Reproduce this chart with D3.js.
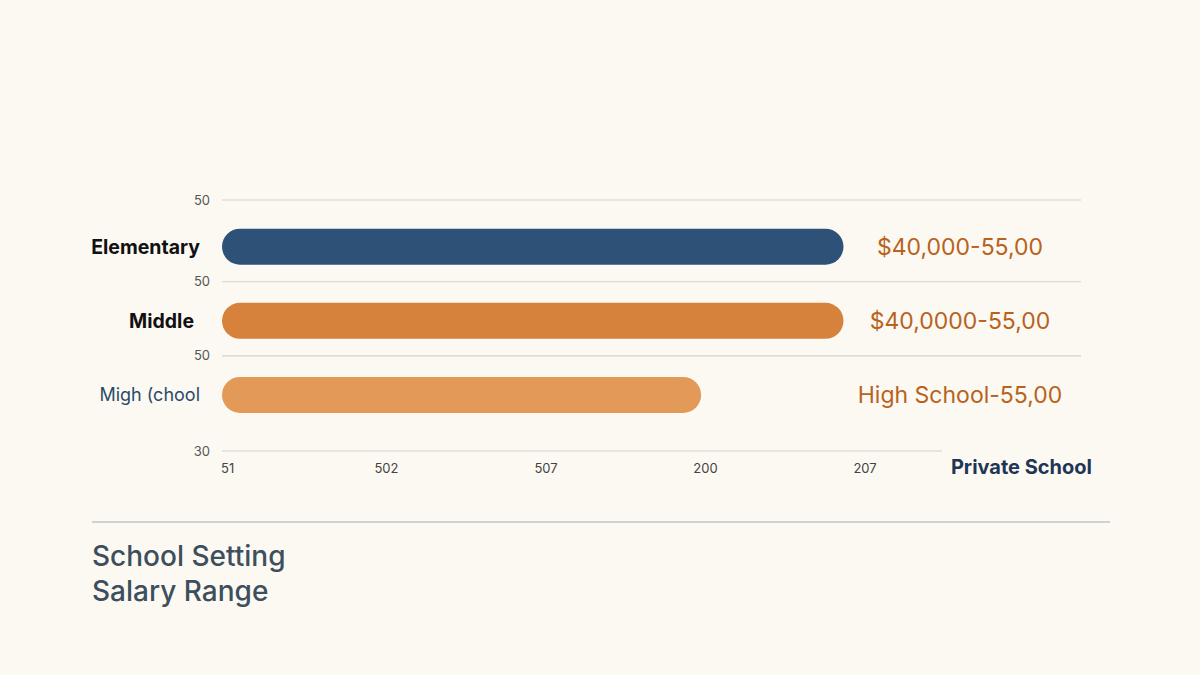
<!DOCTYPE html>
<html>
<head>
<meta charset="utf-8">
<script src="https://cdn.jsdelivr.net/npm/d3@7"></script>
<style>
  html, body { margin: 0; padding: 0; background: #fcf9f3; }
  svg { display: block; font-family: Inter, "Noto Sans", sans-serif; }
</style>
</head>
<body>
<svg id="chart"></svg>
<script>
// Chart data
const categories = ["Elementary", "Middle", "Migh (chool"];
const salaryTop = [55000, 55000, 42400];
const rangeLabels = ["$40,000-55,00", "$40,0000-55,00", "High School-55,00"];
const gridLabels = ["50", "50", "50", "30"];
const xTickLabels = ["51", "502", "507", "200", "207"];
const barColors = ["#2e5277", "#d6813c", "#e39a58"];
const catColors = ["#111111", "#111111", "#2b4a6a"];

const width = 1200;
const height = 675;

const svg = d3.select("#chart")
  .attr("width", width)
  .attr("height", height)
  .style("background", "#fcf9f3");

const x = d3.scaleLinear().domain([0, 60000]).range([222, 900]);

const y = d3.scaleBand()
  .domain(categories)
  .range([200, 451])
  .paddingInner(0.514)
  .paddingOuter(0.45)
  .align(0.43);

const xTicks = d3.scalePoint().domain(xTickLabels).range([227, 865]);

// Gridlines: top of chart, between bands, bottom axis
const step = y.step();
const gridYs = [y.range()[0]]
  .concat(categories.slice(1).map(c => y(c) - step * y.paddingInner() / 2 - 2))
  .concat([y.range()[1]]);

const grid = svg.append("g");
grid.selectAll("line")
  .data(gridYs)
  .join("line")
  .attr("x1", x(0))
  .attr("x2", (d, i) => i === gridYs.length - 1 ? 942 : 1081)
  .attr("y1", d => d)
  .attr("y2", d => d)
  .attr("stroke", "#d3d1cb")
  .attr("stroke-width", 1.2);

grid.selectAll("text")
  .data(gridYs)
  .join("text")
  .attr("x", 210)
  .attr("y", d => d)
  .attr("dy", "0.35em")
  .attr("text-anchor", "end")
  .attr("font-size", 13)
  .attr("fill", "#555")
  .text((d, i) => gridLabels[i]);

// Bars
svg.append("g").selectAll("rect")
  .data(categories)
  .join("rect")
  .attr("x", x(0))
  .attr("y", d => y(d))
  .attr("width", (d, i) => x(salaryTop[i]) - x(0))
  .attr("height", y.bandwidth())
  .attr("rx", y.bandwidth() / 2)
  .attr("fill", (d, i) => barColors[i]);

// Category labels
svg.append("g").selectAll("text")
  .data(categories)
  .join("text")
  .attr("x", (d, i) => i === 1 ? 194 : 200)
  .attr("y", d => y(d) + y.bandwidth() / 2)
  .attr("dy", "0.35em")
  .attr("text-anchor", "end")
  .attr("font-size", (d, i) => i === 2 ? 18 : 19.5)
  .attr("font-weight", (d, i) => i === 2 ? 400 : 700)
  .attr("fill", (d, i) => catColors[i])
  .text(d => d);

// Range labels
svg.append("g").selectAll("text")
  .data(categories)
  .join("text")
  .attr("x", 960)
  .attr("y", d => y(d) + y.bandwidth() / 2)
  .attr("dy", "0.35em")
  .attr("text-anchor", "middle")
  .attr("font-size", 23)
  .attr("fill", "#b8621c")
  .text((d, i) => rangeLabels[i]);

// Bottom tick labels
svg.append("g").selectAll("text")
  .data(xTickLabels)
  .join("text")
  .attr("x", (d, i) => i === 0 ? 221 : xTicks(d))
  .attr("y", 468)
  .attr("dy", "0.35em")
  .attr("text-anchor", (d, i) => i === 0 ? "start" : "middle")
  .attr("font-size", 13)
  .attr("fill", "#444")
  .text(d => d);

svg.append("text")
  .attr("x", 1092)
  .attr("y", 467)
  .attr("dy", "0.35em")
  .attr("text-anchor", "end")
  .attr("font-size", 20)
  .attr("font-weight", 700)
  .attr("fill", "#1f3556")
  .text("Private School");

// Separator and title
svg.append("line")
  .attr("x1", 92).attr("x2", 1110)
  .attr("y1", 522).attr("y2", 522)
  .attr("stroke", "#c2c4c0")
  .attr("stroke-width", 1.5);

const title = svg.append("text")
  .attr("x", 92)
  .attr("font-size", 28)
  .attr("font-weight", 500)
  .attr("fill", "#3d4f5c");
title.append("tspan").attr("x", 92).attr("y", 566).text("School Setting");
title.append("tspan").attr("x", 92).attr("y", 601).text("Salary Range");
</script>
</body>
</html>
